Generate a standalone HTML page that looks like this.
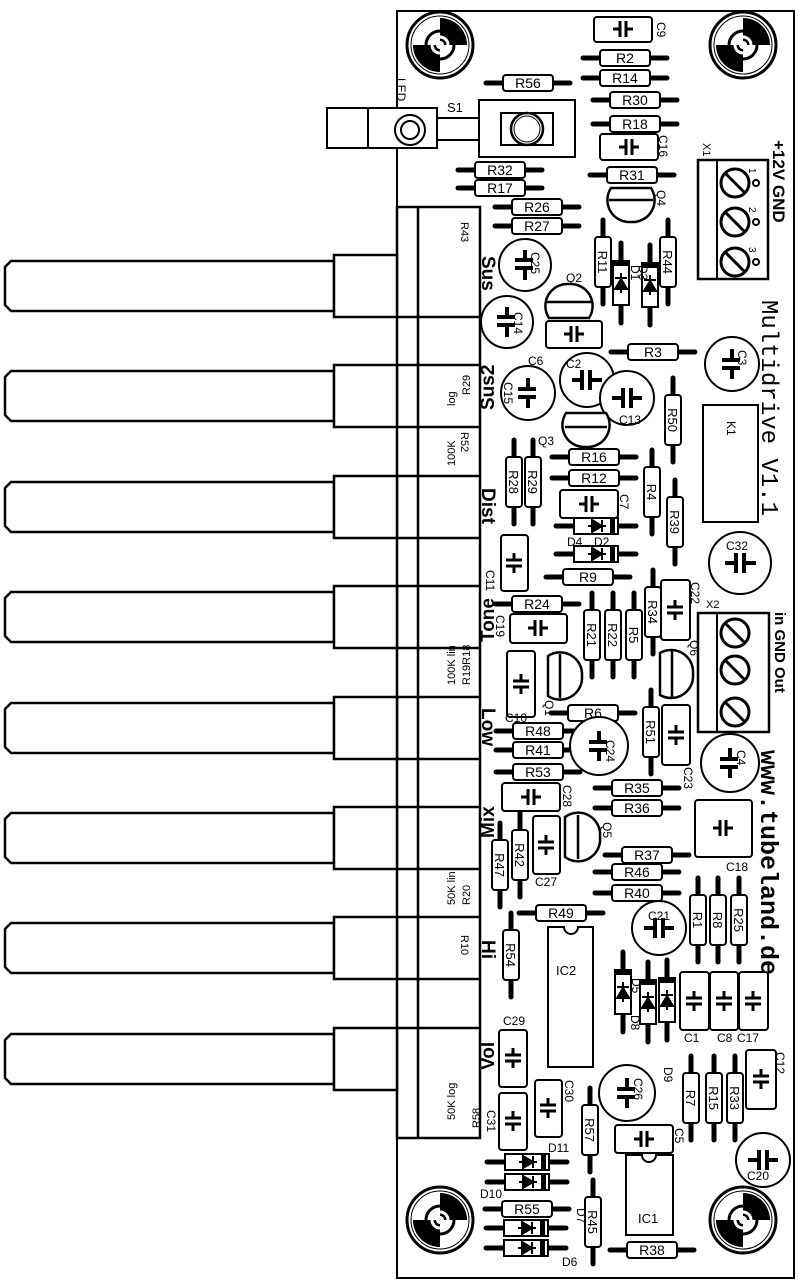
<!DOCTYPE html>
<html><head><meta charset="utf-8"><style>
html,body{margin:0;padding:0;background:#fff;}
svg{display:block;}
text{font-family:"Liberation Sans",sans-serif;fill:#000;}
.m{font-family:"Liberation Mono",monospace;}
</style></head><body>
<svg width="799" height="1281" viewBox="0 0 799 1281" xmlns="http://www.w3.org/2000/svg">
<defs>
<g id="rh"><line x1="-42" y1="0" x2="42" y2="0" stroke="#000" stroke-width="5" stroke-linecap="round"/><rect x="-25" y="-8" width="50" height="16" rx="3" fill="#fff" stroke="#000" stroke-width="2"/></g>
<g id="rv"><line x1="0" y1="-42" x2="0" y2="42" stroke="#000" stroke-width="5" stroke-linecap="round"/><rect x="-8" y="-25" width="16" height="50" rx="3" fill="#fff" stroke="#000" stroke-width="2"/></g>
<g id="ch"><path d="M-10,0H-3M-3,-8V8M3,-8V8M3,0H10" stroke="#000" stroke-width="3" fill="none"/></g>
<g id="cv"><path d="M0,-10V-3M-8,-3H8M-8,3H8M0,3V10" stroke="#000" stroke-width="3" fill="none"/></g>
<g id="dh"><line x1="-40" y1="0" x2="40" y2="0" stroke="#000" stroke-width="5" stroke-linecap="round"/><rect x="-22" y="-8" width="44" height="16" fill="#fff" stroke="#000" stroke-width="2"/><rect x="14" y="-8" width="5" height="16" fill="#000"/><path d="M-8,0H10M-4,-6L6,0L-4,6ZM6,-6V6" stroke="#000" stroke-width="2" fill="#000"/></g>
<g id="dv"><line x1="0" y1="-40" x2="0" y2="40" stroke="#000" stroke-width="5" stroke-linecap="round"/><rect x="-8" y="-22" width="16" height="44" fill="#fff" stroke="#000" stroke-width="2"/><rect x="-8" y="-22" width="16" height="5" fill="#000"/><path d="M0,-10V10M-6,6L0,-4L6,6ZM-6,-5H6" stroke="#000" stroke-width="2" fill="#000"/></g>
<g id="hole"><circle r="33" fill="#fff" stroke="#000" stroke-width="3"/><circle r="29" fill="none" stroke="#000" stroke-width="1"/><path d="M0,0V-27A27,27 0 0 1 27,0Z M0,0V27A27,27 0 0 1 -27,0Z" fill="#000"/><circle r="14" fill="none" stroke="#000" stroke-width="3"/><circle r="8" fill="none" stroke="#fff" stroke-width="3"/><circle r="4" fill="#fff"/></g>
<g id="scr"><circle r="14" fill="#fff" stroke="#000" stroke-width="3"/><line x1="-9" y1="-9" x2="9" y2="9" stroke="#000" stroke-width="3"/></g>
<g id="pot"><path d="M11,-25H334V25H11L5,19V-19Z" fill="#fff" stroke="#000" stroke-width="2.5"/><rect x="334" y="-31" width="63" height="62" fill="#fff" stroke="#000" stroke-width="2.5"/></g>
</defs>

<rect x="397" y="11" width="397" height="1267" fill="#fff" stroke="#000" stroke-width="2"/>

<rect x="397" y="207" width="83" height="931" fill="#fff" stroke="#000" stroke-width="2.5"/>
<line x1="418" y1="207" x2="418" y2="1138" stroke="#000" stroke-width="2.5"/>
<g stroke="#000" stroke-width="2.5">
<line x1="397" y1="317" x2="480" y2="317"/><line x1="397" y1="365" x2="480" y2="365"/>
<line x1="397" y1="427" x2="480" y2="427"/><line x1="397" y1="476" x2="480" y2="476"/>
<line x1="397" y1="538" x2="480" y2="538"/><line x1="397" y1="586" x2="480" y2="586"/>
<line x1="397" y1="648" x2="480" y2="648"/><line x1="397" y1="697" x2="480" y2="697"/>
<line x1="397" y1="759" x2="480" y2="759"/><line x1="397" y1="807" x2="480" y2="807"/>
<line x1="397" y1="869" x2="480" y2="869"/><line x1="397" y1="917" x2="480" y2="917"/>
<line x1="397" y1="979" x2="480" y2="979"/><line x1="397" y1="1028" x2="480" y2="1028"/>
</g>
<use href="#pot" x="0" y="286"/><use href="#pot" x="0" y="396"/><use href="#pot" x="0" y="507"/><use href="#pot" x="0" y="617"/>
<use href="#pot" x="0" y="728"/><use href="#pot" x="0" y="838"/><use href="#pot" x="0" y="948"/><use href="#pot" x="0" y="1059"/>
<g font-size="11">
<text transform="translate(461,222) rotate(90)">R43</text>
<text transform="translate(470,395) rotate(-90)">R29</text>
<text transform="translate(455,406) rotate(-90)">log</text>
<text transform="translate(455,466) rotate(-90)">100K</text>
<text transform="translate(461,432) rotate(90)">R52</text>
<text transform="translate(455,685) rotate(-90)">100K lin</text>
<text transform="translate(470,685) rotate(-90)">R19R18</text>
<text transform="translate(455,905) rotate(-90)">50K lin</text>
<text transform="translate(470,905) rotate(-90)">R20</text>
<text transform="translate(461,935) rotate(90)">R10</text>
<text transform="translate(455,1120) rotate(-90)">50K log</text>
<text transform="translate(480,1128) rotate(-90)">R58</text>
</g>
<g font-size="19" font-weight="bold" class="m">
<text transform="translate(482,256) rotate(90)">Sus</text>
<text transform="translate(494,410) rotate(-90)">Sus2</text>
<text transform="translate(482,488) rotate(90)">Dist</text>
<text transform="translate(494,642) rotate(-90)">Tone</text>
<text transform="translate(482,708) rotate(90)">Low</text>
<text transform="translate(494,838) rotate(-90)">Mix</text>
<text transform="translate(482,940) rotate(90)">Hi</text>
<text transform="translate(494,1070) rotate(-90)">Vol</text>
</g>

<use href="#hole" x="440" y="45"/><use href="#hole" x="743" y="45"/>
<use href="#hole" x="440" y="1220"/><use href="#hole" x="743" y="1220"/>

<rect x="327" y="108" width="110" height="40" fill="#fff" stroke="#000" stroke-width="2"/>
<line x1="368" y1="108" x2="368" y2="148" stroke="#000" stroke-width="2"/>
<circle cx="410" cy="130" r="15" fill="#fff" stroke="#000" stroke-width="2"/><circle cx="410" cy="130" r="9" fill="none" stroke="#000" stroke-width="2"/>
<rect x="437" y="118" width="42" height="22" fill="#fff" stroke="#000" stroke-width="2"/>
<text transform="translate(397,78) rotate(90)" font-size="12">LED</text>
<text x="447" y="112" font-size="13">S1</text>
<rect x="479" y="100" width="96" height="57" fill="#fff" stroke="#000" stroke-width="2"/>
<rect x="501" y="113" width="52" height="32" fill="#fff" stroke="#000" stroke-width="2"/>
<circle cx="527" cy="129" r="16" fill="#fff" stroke="#000" stroke-width="2.5"/><circle cx="527" cy="129" r="13" fill="none" stroke="#000" stroke-width="1"/>

<rect x="698" y="160" width="70" height="119" fill="#fff" stroke="#000" stroke-width="2.5"/>
<line x1="717" y1="160" x2="717" y2="279" stroke="#000" stroke-width="2"/>
<use href="#scr" x="735" y="183"/><use href="#scr" x="735" y="222"/><use href="#scr" x="735" y="262"/>
<g fill="none" stroke="#000" stroke-width="2"><circle cx="756" cy="183" r="3"/><circle cx="756" cy="222" r="3"/><circle cx="756" cy="262" r="3"/>
<circle cx="756" cy="633" r="3"/><circle cx="756" cy="670" r="3"/><circle cx="756" cy="712" r="3"/></g>
<text transform="translate(703,143) rotate(90)" font-size="11">X1</text>
<g font-size="10"><text transform="translate(749,168) rotate(90)">1</text><text transform="translate(749,207) rotate(90)">2</text><text transform="translate(749,247) rotate(90)">3</text>
<text transform="translate(749,618) rotate(90)">1</text><text transform="translate(749,655) rotate(90)">2</text><text transform="translate(749,697) rotate(90)">3</text></g>
<text transform="translate(773,140) rotate(90)" font-size="17" font-weight="bold">+12V GND</text>

<rect x="698" y="613" width="71" height="119" fill="#fff" stroke="#000" stroke-width="2.5"/>
<line x1="717" y1="613" x2="717" y2="732" stroke="#000" stroke-width="2"/>
<use href="#scr" x="735" y="633"/><use href="#scr" x="735" y="670"/><use href="#scr" x="735" y="712"/>
<text x="706" y="608" font-size="11">X2</text>
<text transform="translate(775,612) rotate(90)" font-size="15" font-weight="bold">in GND Out</text>

<text transform="translate(762,300) rotate(90)" font-size="24" class="m">Multidrive V1.1</text>
<text transform="translate(761,750) rotate(90)" font-size="25" font-weight="bold" class="m">www.tubeland.de</text>

<rect x="703" y="405" width="55" height="117" fill="#fff" stroke="#000" stroke-width="2"/>
<text transform="translate(727,421) rotate(90)" font-size="12">K1</text>

<g>
<use href="#rh" x="528" y="83"/><use href="#rh" x="625" y="58"/><use href="#rh" x="625" y="78"/><use href="#rh" x="635" y="100"/><use href="#rh" x="635" y="124"/>
<use href="#rh" x="632" y="175"/><use href="#rh" x="500" y="170"/><use href="#rh" x="500" y="188"/><use href="#rh" x="537" y="207"/><use href="#rh" x="537" y="226"/>
<use href="#rh" x="653" y="352"/><use href="#rh" x="594" y="457"/><use href="#rh" x="594" y="478"/><use href="#rh" x="588" y="577"/><use href="#rh" x="537" y="604"/>
<use href="#rh" x="593" y="713"/><use href="#rh" x="538" y="731"/><use href="#rh" x="538" y="750"/><use href="#rh" x="538" y="772"/><use href="#rh" x="637" y="788"/>
<use href="#rh" x="637" y="808"/><use href="#rh" x="647" y="855"/><use href="#rh" x="637" y="872"/><use href="#rh" x="637" y="893"/><use href="#rh" x="561" y="913"/>
<use href="#rh" x="527" y="1209"/><use href="#rh" x="652" y="1250"/>
</g>
<g font-size="14" text-anchor="middle">
<text x="528" y="88">R56</text><text x="625" y="63">R2</text><text x="625" y="83">R14</text><text x="635" y="105">R30</text><text x="635" y="129">R18</text>
<text x="632" y="180">R31</text><text x="500" y="175">R32</text><text x="500" y="193">R17</text><text x="537" y="212">R26</text><text x="537" y="231">R27</text>
<text x="653" y="357">R3</text><text x="594" y="462">R16</text><text x="594" y="483">R12</text><text x="588" y="582">R9</text><text x="537" y="609">R24</text>
<text x="593" y="718">R6</text><text x="538" y="736">R48</text><text x="538" y="755">R41</text><text x="538" y="777">R53</text><text x="637" y="793">R35</text>
<text x="637" y="813">R36</text><text x="647" y="860">R37</text><text x="637" y="877">R46</text><text x="637" y="898">R40</text><text x="561" y="918">R49</text>
<text x="527" y="1214">R55</text><text x="652" y="1255">R38</text>
</g>

<g>
<use href="#rv" x="603" y="262"/><use href="#rv" x="668" y="262"/><use href="#rv" x="673" y="420"/><use href="#rv" x="514" y="482"/><use href="#rv" x="533" y="482"/>
<use href="#rv" x="652" y="492"/><use href="#rv" x="675" y="522"/><use href="#rv" x="592" y="635"/><use href="#rv" x="613" y="635"/><use href="#rv" x="634" y="635"/>
<use href="#rv" x="653" y="612"/><use href="#rv" x="651" y="732"/><use href="#rv" x="520" y="855"/><use href="#rv" x="500" y="865"/><use href="#rv" x="511" y="955"/>
<use href="#rv" x="590" y="1130"/><use href="#rv" x="593" y="1222"/><use href="#rv" x="698" y="920"/><use href="#rv" x="718" y="920"/><use href="#rv" x="739" y="920"/>
<use href="#rv" x="691" y="1098"/><use href="#rv" x="714" y="1098"/><use href="#rv" x="735" y="1098"/>
</g>
<g font-size="13" text-anchor="middle">
<text transform="translate(598,262) rotate(90)">R11</text><text transform="translate(663,262) rotate(90)">R44</text><text transform="translate(668,420) rotate(90)">R50</text>
<text transform="translate(509,482) rotate(90)">R28</text><text transform="translate(528,482) rotate(90)">R29</text><text transform="translate(647,492) rotate(90)">R4</text>
<text transform="translate(670,522) rotate(90)">R39</text><text transform="translate(587,635) rotate(90)">R21</text><text transform="translate(608,635) rotate(90)">R22</text>
<text transform="translate(629,635) rotate(90)">R5</text><text transform="translate(648,612) rotate(90)">R34</text><text transform="translate(646,732) rotate(90)">R51</text>
<text transform="translate(515,855) rotate(90)">R42</text><text transform="translate(495,865) rotate(90)">R47</text><text transform="translate(506,955) rotate(90)">R54</text>
<text transform="translate(585,1130) rotate(90)">R57</text><text transform="translate(588,1222) rotate(90)">R45</text><text transform="translate(693,920) rotate(90)">R1</text>
<text transform="translate(713,920) rotate(90)">R8</text><text transform="translate(734,920) rotate(90)">R25</text><text transform="translate(686,1098) rotate(90)">R7</text>
<text transform="translate(709,1098) rotate(90)">R15</text><text transform="translate(730,1098) rotate(90)">R33</text>
</g>

<g fill="#fff" stroke="#000" stroke-width="2">
<rect x="594" y="17" width="58" height="25" rx="3"/><rect x="600" y="134" width="58" height="26" rx="3"/><rect x="546" y="321" width="56" height="27" rx="3"/>
<rect x="560" y="490" width="58" height="28" rx="3"/><rect x="501" y="535" width="27" height="56" rx="3"/><rect x="661" y="580" width="29" height="60" rx="3"/>
<rect x="510" y="614" width="57" height="29" rx="3"/><rect x="507" y="651" width="28" height="66" rx="3"/><rect x="662" y="705" width="28" height="60" rx="3"/>
<rect x="502" y="783" width="58" height="28" rx="3"/><rect x="533" y="816" width="27" height="58" rx="3"/><rect x="695" y="800" width="57" height="57" rx="3"/>
<rect x="499" y="1030" width="28" height="57" rx="3"/><rect x="499" y="1093" width="28" height="57" rx="3"/><rect x="535" y="1080" width="27" height="57" rx="3"/>
<rect x="680" y="972" width="29" height="58" rx="3"/><rect x="710" y="972" width="28" height="58" rx="3"/><rect x="739" y="972" width="29" height="58" rx="3"/>
<rect x="746" y="1050" width="30" height="59" rx="3"/><rect x="615" y="1125" width="58" height="28" rx="3"/>
</g>
<use href="#ch" x="623" y="29"/><use href="#ch" x="629" y="147"/><use href="#ch" x="574" y="334"/><use href="#ch" x="589" y="504"/>
<use href="#cv" x="514" y="563"/><use href="#cv" x="675" y="610"/><use href="#ch" x="538" y="628"/><use href="#cv" x="521" y="684"/>
<use href="#cv" x="676" y="735"/><use href="#ch" x="531" y="797"/><use href="#cv" x="546" y="845"/><use href="#ch" x="723" y="828"/>
<use href="#cv" x="513" y="1058"/><use href="#cv" x="513" y="1121"/><use href="#cv" x="548" y="1108"/><use href="#cv" x="694" y="1001"/>
<use href="#cv" x="724" y="1001"/><use href="#cv" x="753" y="1001"/><use href="#cv" x="761" y="1079"/><use href="#ch" x="644" y="1139"/>
<g font-size="12">
<text transform="translate(657,22) rotate(90)">C9</text><text transform="translate(659,135) rotate(90)">C16</text>
<text transform="translate(620,494) rotate(90)">C7</text><text transform="translate(486,570) rotate(90)">C11</text>
<text transform="translate(691,582) rotate(90)">C22</text><text transform="translate(496,615) rotate(90)">C19</text>
<text x="505" y="722">C10</text><text transform="translate(684,767) rotate(90)">C23</text>
<text transform="translate(563,785) rotate(90)">C28</text><text x="535" y="886">C27</text><text x="726" y="871">C18</text>
<text x="503" y="1025">C29</text><text transform="translate(487,1110) rotate(90)">C31</text><text transform="translate(565,1080) rotate(90)">C30</text>
<text x="684" y="1042">C1</text><text x="717" y="1042">C8</text><text x="737" y="1042">C17</text>
<text transform="translate(776,1052) rotate(90)">C12</text><text transform="translate(675,1128) rotate(90)">C5</text>
</g>

<g fill="#fff" stroke="#000" stroke-width="2">
<circle cx="525" cy="265" r="26"/><circle cx="507" cy="322" r="26"/><circle cx="528" cy="393" r="27"/><circle cx="587" cy="380" r="27"/>
<circle cx="627" cy="398" r="27"/><circle cx="732" cy="364" r="27"/><circle cx="740" cy="563" r="31"/><circle cx="599" cy="746" r="29"/>
<circle cx="730" cy="763" r="29"/><circle cx="659" cy="928" r="27"/><circle cx="627" cy="1093" r="28"/><circle cx="763" cy="1160" r="27"/>
</g>
<g stroke="#000" stroke-width="4" fill="none">
<path d="M525,250V260M515,260H533M515,268H533M525,268V280"/><path d="M507,307V317M497,317H515M497,325H515M507,325V337"/>
<path d="M528,378V389M518,389H536M518,397H536M528,397V408"/><path d="M572,380H582M582,370V390M590,370V390M590,380H602"/>
<path d="M612,398H623M623,388V408M631,388V408M631,398H642"/><path d="M732,349V360M722,360H740M722,368H740M732,368V379"/>
<path d="M725,563H736M736,553V573M744,553V573M744,563H756"/><path d="M599,731V742M589,742H607M589,750H607M599,750V761"/>
<path d="M730,748V759M720,759H738M720,767H738M730,767V778"/><path d="M644,928H655M655,918V938M663,918V938M663,928H674"/>
<path d="M627,1078V1089M617,1089H635M617,1097H635M627,1097V1108"/><path d="M748,1160H759M759,1150V1170M767,1150V1170M767,1160H778"/>
</g>
<g font-size="12">
<text transform="translate(531,252) rotate(90)">C25</text><text transform="translate(514,312) rotate(90)">C14</text><text x="528" y="365">C6</text>
<text transform="translate(504,382) rotate(90)">C15</text><text x="566" y="368">C2</text><text x="619" y="424">C13</text>
<text transform="translate(738,350) rotate(90)">C3</text><text x="726" y="550">C32</text><text transform="translate(606,740) rotate(90)">C24</text>
<text transform="translate(737,750) rotate(90)">C4</text><text x="648" y="920">C21</text><text transform="translate(634,1078) rotate(90)">C26</text>
<text x="747" y="1180">C20</text>
</g>

<!-- transistors -->
<g fill="#fff" stroke="#000" stroke-width="2.5">
<path d="M611,188H651A22,22 0 0 1 631,222A22,22 0 0 1 611,188Z"/><line x1="609" y1="200" x2="653" y2="200"/>
<path d="M549,318H589A22,22 0 0 0 569,284A22,22 0 0 0 549,318Z"/><line x1="547" y1="302" x2="591" y2="302"/>
<path d="M566,413H606A22,22 0 0 1 586,447A22,22 0 0 1 566,413Z"/><line x1="565" y1="427" x2="607" y2="427"/>
<path d="M548,656V696A22,22 0 0 0 582,676A22,22 0 0 0 548,656Z"/><line x1="560" y1="654" x2="560" y2="698"/>
<path d="M660,653V695A22,22 0 0 0 693,674A22,22 0 0 0 660,653Z"/><line x1="672" y1="651" x2="672" y2="697"/>
<path d="M565,817V857A22,22 0 0 0 600,837A22,22 0 0 0 565,817Z"/><line x1="578" y1="815" x2="578" y2="859"/>
</g>
<g font-size="12">
<text transform="translate(657,190) rotate(90)">Q4</text><text x="566" y="282">Q2</text><text x="538" y="445">Q3</text>
<text transform="translate(545,700) rotate(90)">Q1</text><text transform="translate(690,640) rotate(90)">Q6</text><text transform="translate(603,822) rotate(90)">Q5</text>
</g>

<use href="#dv" x="621" y="283"/><use href="#dv" x="650" y="285"/><use href="#dh" x="596" y="526"/><use href="#dh" x="596" y="554"/>
<use href="#dv" x="623" y="992"/><use href="#dv" x="648" y="1002"/><use href="#dv" x="667" y="1000"/>
<use href="#dh" x="527" y="1162"/><use href="#dh" x="527" y="1182"/><use href="#dh" x="526" y="1228"/><use href="#dh" x="526" y="1248"/>
<g font-size="12">
<text transform="translate(631,265) rotate(90)">D1</text><text transform="translate(639,265) rotate(90)">D3</text>
<text x="567" y="546">D4</text><text x="594" y="546">D2</text><text transform="translate(632,978) rotate(90)">D5</text>
<text transform="translate(631,1015) rotate(90)">D8</text><text transform="translate(664,1067) rotate(90)">D9</text>
<text x="548" y="1152">D11</text><text x="480" y="1198">D10</text><text transform="translate(577,1208) rotate(90)">D7</text><text x="562" y="1266">D6</text>
</g>

<path d="M548,927H564A7,7 0 0 0 578,927H593V1067H548Z" fill="#fff" stroke="#000" stroke-width="2"/>
<text x="556" y="975" font-size="13">IC2</text>
<path d="M626,1155H642A7,7 0 0 0 656,1155H673V1235H626Z" fill="#fff" stroke="#000" stroke-width="2"/>
<text x="638" y="1223" font-size="13">IC1</text>
</svg>
</body></html>
